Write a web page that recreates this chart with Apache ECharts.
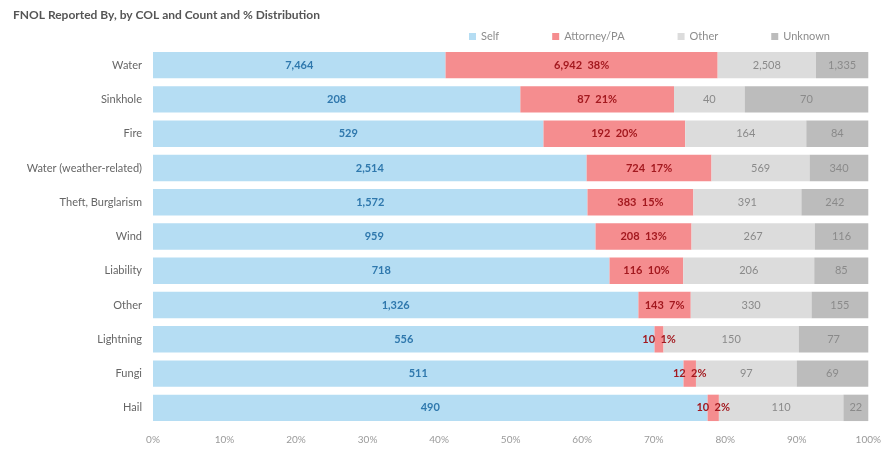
<!DOCTYPE html>
<html>
<head>
<meta charset="utf-8">
<script src="https://cdn.jsdelivr.net/npm/echarts@6/dist/echarts.min.js"></script>
<style>
  html, body { margin: 0; padding: 0; background: #ffffff; }
  #chart { width: 884px; height: 449px; }
</style>
</head>
<body>
<div id="chart"></div>
<script>
// Cause of loss categories, top to bottom
const categories = ['Water', 'Sinkhole', 'Fire', 'Water (weather-related)', 'Theft, Burglarism',
  'Wind', 'Liability', 'Other', 'Lightning', 'Fungi', 'Hail'];

// FNOL counts by who reported the claim
const selfCounts     = [7464, 208, 529, 2514, 1572, 959, 718, 1326, 556, 511, 490];
const attorneyCounts = [6942, 87, 192, 724, 383, 208, 116, 143, 10, 12, 10];
const otherCounts    = [2508, 40, 164, 569, 391, 267, 206, 330, 150, 97, 110];
const unknownCounts  = [1335, 70, 84, 340, 242, 116, 85, 155, 77, 69, 22];

const xTicks = ['0%', '10%', '20%', '30%', '40%', '50%', '60%', '70%', '80%', '90%', '100%'];

const totals = categories.map((_, i) =>
  selfCounts[i] + attorneyCounts[i] + otherCounts[i] + unknownCounts[i]);

// Each segment is plotted as its share of the row total, keeping the count for the label
function shares(counts) {
  return counts.map((c, i) => ({ value: c / totals[i] * 100, count: c }));
}

const fmt = n => n.toLocaleString('en-US');
const FONT = 'Lato, "Open Sans", sans-serif';

const chart = echarts.init(document.getElementById('chart'), null, { renderer: 'canvas' });

function seg(name, counts, color, labelColor, bold, withPct) {
  return {
    name: name,
    type: 'bar',
    stack: 'total',
    barCategoryGap: '23%',
    data: shares(counts),
    itemStyle: { color: color },
    label: {
      show: true,
      position: 'inside',
      color: labelColor,
      fontFamily: FONT,
      fontSize: 11,
      fontWeight: bold ? 'bold' : 'normal',
      formatter: p => withPct
        ? fmt(p.data.count) + '  ' + Math.round(p.data.value) + '%'
        : fmt(p.data.count)
    },
    emphasis: { disabled: true }
  };
}

chart.setOption({
  animation: false,
  title: {
    text: 'FNOL Reported By, by COL and Count and % Distribution',
    left: 8,
    top: 4,
    textStyle: { fontFamily: FONT, fontSize: 12, fontWeight: 'bold', color: '#555555' }
  },
  legend: {
    top: 26,
    left: 464,
    itemWidth: 7,
    itemHeight: 7,
    itemGap: 53,
    icon: 'rect',
    textStyle: { fontFamily: FONT, fontSize: 11, color: '#8c8c8c' },
    data: ['Self', 'Attorney/PA', 'Other', 'Unknown']
  },
  grid: { left: 153, right: 10, top: 48, bottom: 24, containLabel: false },
  xAxis: {
    type: 'value',
    min: 0,
    max: 100,
    interval: 10,
    axisLine: { show: false },
    axisTick: { show: false },
    splitLine: { show: false },
    axisLabel: {
      fontFamily: FONT,
      fontSize: 10,
      color: '#9a9a9a',
      margin: 10,
      formatter: v => xTicks[Math.round(v / 10)]
    }
  },
  yAxis: {
    type: 'category',
    data: categories,
    inverse: true,
    axisLine: { show: false },
    axisTick: { show: false },
    axisLabel: { fontFamily: FONT, fontSize: 11, color: '#666666', margin: 11 }
  },
  series: [
    seg('Self', selfCounts, '#b5ddf3', '#2f78ad', true, false),
    seg('Attorney/PA', attorneyCounts, '#f58d8f', '#a3191f', true, true),
    seg('Other', otherCounts, '#dcdcdc', '#8a8a8a', false, false),
    seg('Unknown', unknownCounts, '#bcbcbc', '#8a8a8a', false, false)
  ]
});
</script>
</body>
</html>
